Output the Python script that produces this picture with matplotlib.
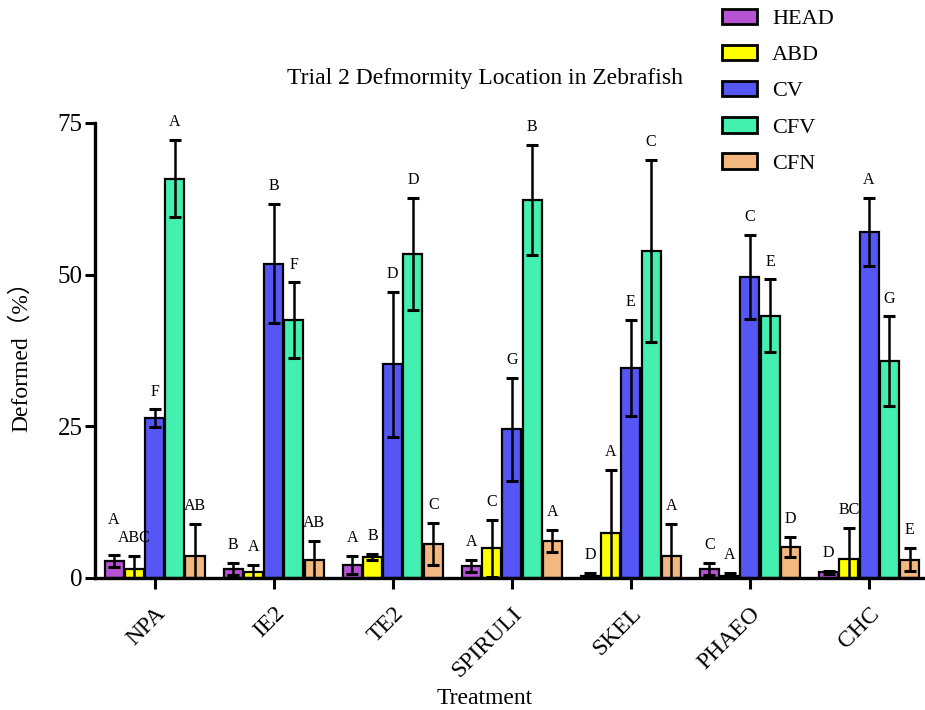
import numpy as np
import matplotlib.pyplot as plt
from matplotlib.patches import Patch

plt.rcParams['font.family'] = ['Liberation Serif', 'Noto Sans CJK SC']

# Data
treatments = ['NPA', 'IE2', 'TE2', 'SPIRULI', 'SKEL', 'PHAEO', 'CHC']
series = ['HEAD', 'ABD', 'CV', 'CFV', 'CFN']
colors = ['#B652D4', '#FFFF00', '#5656F5', '#44F0B0', '#F2B880']

head = [2.8, 1.5, 2.1, 2.0, 0.3, 1.5, 0.9]
abd = [1.5, 1.0, 3.5, 4.9, 7.4, 0.4, 3.1]
cv = [26.3, 51.8, 35.2, 24.5, 34.6, 49.6, 57.0]
cfv = [65.8, 42.5, 53.4, 62.3, 53.9, 43.2, 35.7]
cfn = [3.6, 3.0, 5.6, 6.1, 3.6, 5.1, 3.0]

head_err = [1.0, 1.0, 1.5, 1.0, 0.5, 1.0, 0.3]
abd_err = [2.1, 1.1, 0.5, 4.7, 10.4, 0.4, 5.1]
cv_err = [1.5, 9.8, 12.0, 8.5, 7.9, 6.9, 5.6]
cfv_err = [6.4, 6.2, 9.2, 9.1, 15.0, 6.0, 7.4]
cfn_err = [5.3, 3.1, 3.5, 1.8, 5.3, 1.7, 1.9]

head_lbl = ['A', 'B', 'A', 'A', 'D', 'C', 'D']
abd_lbl = ['ABC', 'A', 'B', 'C', 'A', 'A', 'BC']
cv_lbl = ['F', 'B', 'D', 'G', 'E', 'C', 'A']
cfv_lbl = ['A', 'F', 'D', 'B', 'C', 'E', 'G']
cfn_lbl = ['AB', 'AB', 'C', 'A', 'A', 'D', 'E']

values = [head, abd, cv, cfv, cfn]
errors = [head_err, abd_err, cv_err, cfv_err, cfn_err]
labels = [head_lbl, abd_lbl, cv_lbl, cfv_lbl, cfn_lbl]

fig = plt.figure(figsize=(9.25, 7.1), dpi=100)
ax = fig.add_axes([0.1027, 0.186, 0.8973, 0.641])

x = np.arange(len(treatments))
w = 0.16
step = 0.17
for i, name in enumerate(series):
    pos = x + (i - 2) * step
    ax.bar(pos, values[i], width=w, color=colors[i], edgecolor='black',
           linewidth=1.6, zorder=2)
    ax.errorbar(pos, values[i], yerr=errors[i], fmt='none', ecolor='black',
                elinewidth=1.8, capsize=4, capthick=2.2, zorder=3)
    for j, (xp, v, e, t) in enumerate(zip(pos, values[i], errors[i], labels[i])):
        # NPA HEAD letter sits higher so it clears the ABC label
        lift = 2.8 if (i == 0 and j == 0) else 0
        ax.text(xp, v + e + 1.6 + lift, t, ha='center', va='bottom',
                fontsize=11.5, clip_on=False)

ax.set_xlim(-0.5, 6.47)
ax.set_ylim(0, 75)
ax.set_yticks([0, 25, 50, 75])
ax.set_xticks(x)
ax.set_xticklabels(treatments, rotation=45, ha='right', rotation_mode='anchor',
                   fontsize=17)
ax.tick_params(axis='y', labelsize=18, width=2.2, length=7, pad=2)
ax.tick_params(axis='x', width=2.2, length=8, pad=10)
for s in ['top', 'right']:
    ax.spines[s].set_visible(False)
for s in ['left', 'bottom']:
    ax.spines[s].set_linewidth(2.4)

ax.set_xlabel('Treatment', fontsize=17)
ax.xaxis.set_label_coords(0.469, -0.242)
ax.set_ylabel('Deformed（%）', fontsize=17)
ax.yaxis.set_label_coords(-0.076, 0.5)
fig.text(0.524, 0.89, 'Trial 2 Defmormity Location in Zebrafish',
         ha='center', va='center', fontsize=17)

handles = [Patch(facecolor=c, edgecolor='black', linewidth=2) for c in colors]
fig.legend(handles, series, loc='upper left', bbox_to_anchor=(0.759, 1.016),
           frameon=False, fontsize=16, handlelength=1.55, handleheight=0.7,
           labelspacing=0.7, handletextpad=0.7)

fig.savefig('out.png', dpi=100)
